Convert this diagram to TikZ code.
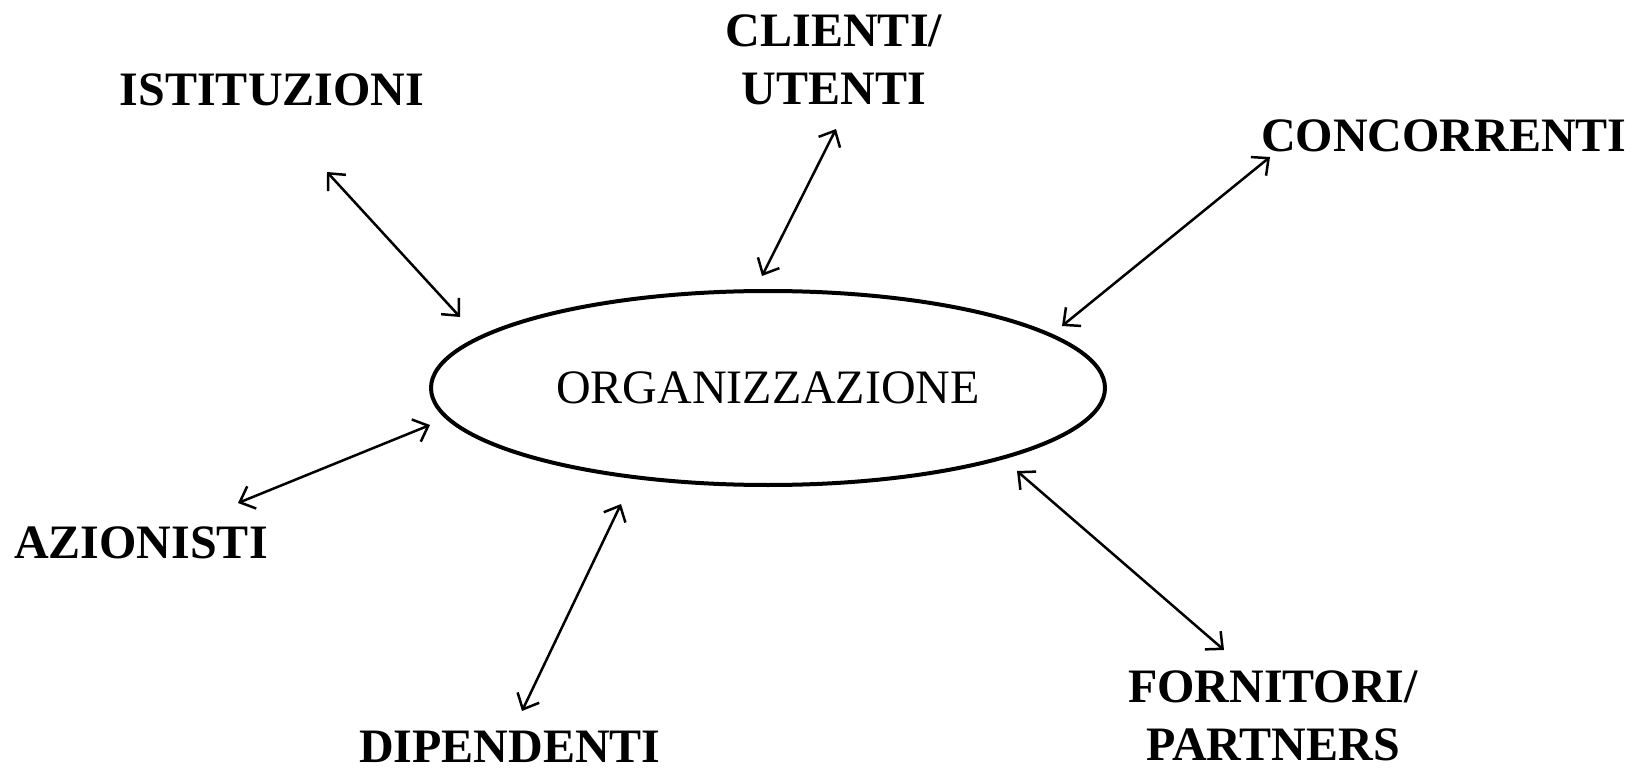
\documentclass[tikz,border=0pt]{standalone}
\usepackage{fontspec}
\usepackage{xcolor}
\setmainfont{Liberation Serif}
\usetikzlibrary{positioning, arrows.meta, shapes.geometric}

\begin{document}
\begin{tikzpicture}[x=1pt, y=-1pt, inner sep=0pt,
    org/.style={ellipse, draw, line width=4pt, minimum width=674pt, minimum height=194pt,
      font=\fontsize{48}{58}\selectfont},
    actor/.style={align=center, font=\fontsize{48}{58}\selectfont\bfseries},
    link/.style={line width=2.5pt, {Straight Barb[length=13pt, width=24pt]}-{Straight Barb[length=13pt, width=24pt]}}]
      \useasboundingbox (0,0) rectangle (1639,770);

      \node[org] (org) at (768,388) {\raisebox{-4pt}{ORGANIZZAZIONE}};

      \node[actor] (ist) at (272,90) {ISTITUZIONI};
      \node[actor] (cli) at (834,60) {CLIENTI/\\UTENTI};
      \node[actor] (con) at (1444,136) {CONCORRENTI};
      \node[actor] (azi) at (141,543) {AZIONISTI};
      \node[actor] (dip) at (510,747) {DIPENDENTI};
      \node[actor] (for) at (1273,716) {FORNITORI/\\PARTNERS};

      % ends of the arrows
      \coordinate (ist1) at (327,172);  \coordinate (ist2) at (460,317);
      \coordinate (cli1) at (836,129);  \coordinate (cli2) at (762,276);
      \coordinate (con1) at (1270,157); \coordinate (con2) at (1062,326);
      \coordinate (azi1) at (238,503);  \coordinate (azi2) at (430,425);
      \coordinate (dip1) at (522,711);  \coordinate (dip2) at (621,504);
      \coordinate (for1) at (1224,650); \coordinate (for2) at (1017,471);

      \foreach \n in {ist, cli, con, azi, dip, for}
      \draw[link] (\n1) -- (\n2);
    \end{tikzpicture}
\end{document}
